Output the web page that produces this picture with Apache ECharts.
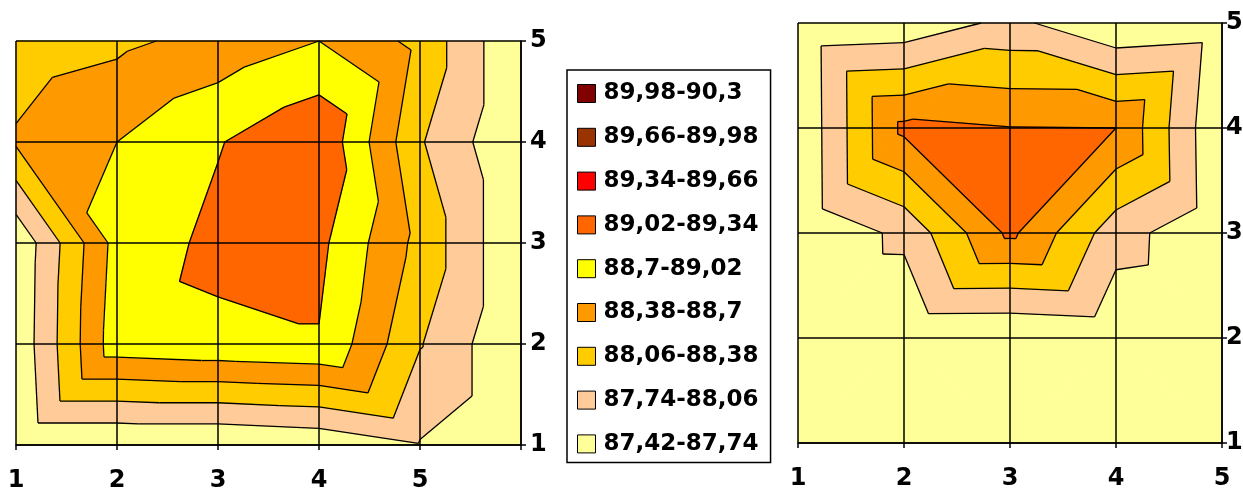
<!DOCTYPE html>
<html lang="ru">
<head>
    <meta charset="UTF-8">
    <title>Contour</title>
    <script src="https://cdn.jsdelivr.net/npm/echarts@6/dist/echarts.min.js"></script>
</head>
<body style="margin:0;background:#fff">
<div id="main" style="width:1243px;height:488px"></div>

<script type="text/javascript">

    // band edges and their labels (legend)
    var levels = [87.42, 87.74, 88.06, 88.38, 88.7, 89.02, 89.34, 89.66, 89.98, 90.3];
    var bandLabels = ['87,42-87,74', '87,74-88,06', '88,06-88,38', '88,38-88,7', '88,7-89,02',
        '89,02-89,34', '89,34-89,66', '89,66-89,98', '89,98-90,3'];

    // grid values, top row is y = 5, first column is x = 1
    var leftZ = [
        [88.20, 88.31, 88.49, 88.70, 88.29, 87.42],
        [88.42, 88.70, 89.00, 89.30, 88.09, 87.42],
        [87.47, 88.82, 89.10, 89.10, 88.28, 87.42],
        [87.49, 88.89, 88.95, 89.00, 88.08, 87.42],
        [87.42, 87.42, 87.42, 87.49, 87.72, 87.42]
    ];
    var rightZ = [
        [87.45, 87.50, 87.83, 87.44, 87.52],
        [87.44, 88.78, 88.71, 88.70, 87.42],
        [87.43, 87.82, 88.77, 87.88, 87.44],
        [87.42, 87.43, 87.42, 87.48, 87.42],
        [87.42, 87.42, 87.42, 87.42, 87.42]
    ];

    var leftXLabels = ['1', '2', '3', '4', '5', ''];
    var leftYLabels = ['1', '2', '3', '4', '5'];
    var rightXLabels = ['1', '2', '3', '4', '5'];
    var rightYLabels = ['1', '2', '3', '4', '5'];

    var bandColors = ['#FFFF99', '#FFCC99', '#FFCC00', '#FF9900', '#FFFF00',
        '#FF6600', '#FF0000', '#993300', '#800000'];
    var rightColors = ['#FFFF99', '#FFCC99', '#FFCC00', '#FF9900', '#FF6600'];

    var font = '"DejaVu Sans", Verdana, sans-serif';

    function zAt(Z, x, y) {
        return Z[Z.length - y][x - 1];
    }

    function cells(Z) {
        var out = [];
        for (var y = 1; y < Z.length; y++) {
            for (var x = 1; x < Z[0].length; x++) out.push([x, y]);
        }
        return out;
    }

    // split the cell along the diagonal whose ends have the larger sum
    function cellTriangles(Z, x, y) {
        function p(dx, dy) { return [x + dx, y + dy, zAt(Z, x + dx, y + dy)]; }
        var a = p(0, 0), b = p(1, 0), c = p(0, 1), d = p(1, 1);
        if (a[2] + d[2] >= b[2] + c[2]) return [[a, b, d], [a, d, c]];
        return [[a, b, c], [b, d, c]];
    }

    function clip(poly, L, above) {
        var out = [];
        for (var i = 0; i < poly.length; i++) {
            var P = poly[i], Q = poly[(i + 1) % poly.length];
            var pin = above ? P[2] >= L : P[2] <= L;
            var qin = above ? Q[2] >= L : Q[2] <= L;
            if (pin) out.push(P);
            if (pin !== qin) {
                var t = (L - P[2]) / (Q[2] - P[2]);
                out.push([P[0] + t * (Q[0] - P[0]), P[1] + t * (Q[1] - P[1]), L]);
            }
        }
        return out;
    }

    function bandRenderer(Z, b, color) {
        return function (params, api) {
            var tris = cellTriangles(Z, api.value(0), api.value(1));
            var children = [];
            tris.forEach(function (tri) {
                var poly = clip(clip(tri, levels[b], true), levels[b + 1], false);
                if (poly.length < 3) return;
                children.push({
                    type: 'polygon',
                    shape: { points: poly.map(function (q) { return api.coord([q[0], q[1]]); }) },
                    style: { fill: color, stroke: color, lineWidth: 1 }
                });
            });
            return { type: 'group', children: children };
        };
    }

    function contourRenderer(Z) {
        return function (params, api) {
            var tris = cellTriangles(Z, api.value(0), api.value(1));
            var children = [];
            tris.forEach(function (tri) {
                for (var k = 1; k < levels.length - 1; k++) {
                    var L = levels[k], pts = [];
                    for (var i = 0; i < 3; i++) {
                        var P = tri[i], Q = tri[(i + 1) % 3];
                        if ((P[2] >= L) !== (Q[2] >= L)) {
                            var t = (L - P[2]) / (Q[2] - P[2]);
                            pts.push(api.coord([P[0] + t * (Q[0] - P[0]), P[1] + t * (Q[1] - P[1])]));
                        }
                    }
                    if (pts.length === 2) {
                        children.push({
                            type: 'line',
                            shape: { x1: pts[0][0], y1: pts[0][1], x2: pts[1][0], y2: pts[1][1] },
                            style: { stroke: '#000', lineWidth: 1.3 }
                        });
                    }
                }
            });
            return { type: 'group', children: children };
        };
    }

    function axis(gridIndex, max, labels, isY, margin) {
        return {
            gridIndex: gridIndex,
            type: 'value',
            min: 1,
            max: max,
            interval: 1,
            position: isY ? 'right' : 'bottom',
            z: 5,
            axisLine: { show: true, lineStyle: { color: '#000', width: 1.5 } },
            axisTick: { show: true, length: 5, lineStyle: { color: '#000', width: 1.5 } },
            axisLabel: {
                formatter: function (v) { return labels[v - 1]; },
                color: '#000', fontSize: 24, fontWeight: 'bold', fontFamily: font, margin: margin
            },
            splitLine: { show: true, lineStyle: { color: '#000', width: 1.5 } }
        };
    }

    var series = [];
    bandColors.forEach(function (c, b) {
        series.push({
            name: bandLabels[b], type: 'custom', xAxisIndex: 0, yAxisIndex: 0, z: 1,
            silent: true, itemStyle: { color: c },
            data: cells(leftZ), renderItem: bandRenderer(leftZ, b, c)
        });
    });
    rightColors.forEach(function (c, b) {
        series.push({
            name: 'right ' + bandLabels[b], type: 'custom', xAxisIndex: 1, yAxisIndex: 1, z: 1,
            silent: true, itemStyle: { color: c },
            data: cells(rightZ), renderItem: bandRenderer(rightZ, b, c)
        });
    });
    series.push({
        name: 'left contours', type: 'custom', xAxisIndex: 0, yAxisIndex: 0, z: 3, silent: true,
        data: cells(leftZ), renderItem: contourRenderer(leftZ)
    });
    series.push({
        name: 'right contours', type: 'custom', xAxisIndex: 1, yAxisIndex: 1, z: 3, silent: true,
        data: cells(rightZ), renderItem: contourRenderer(rightZ)
    });

    var myChart = echarts.init(document.getElementById('main'));
    myChart.setOption({
        animation: false,
        backgroundColor: '#fff',
        grid: [
            { left: 16, top: 41, width: 505, height: 404, outerBoundsMode: 'none' },
            { left: 798, top: 23, width: 424, height: 420, outerBoundsMode: 'none' }
        ],
        xAxis: [
            axis(0, 6, leftXLabels, false, 24),
            axis(1, 5, rightXLabels, false, 24)
        ],
        yAxis: [
            axis(0, 5, leftYLabels, true, 9),
            axis(1, 5, rightYLabels, true, 4)
        ],
        legend: {
            orient: 'vertical',
            left: 567,
            top: 70,
            padding: [12, 12, 7, 10],
            itemWidth: 18,
            itemHeight: 18,
            itemGap: 20.8,
            borderColor: '#000',
            borderWidth: 1.5,
            selectedMode: false,
            icon: 'rect',
            itemStyle: { borderColor: '#000', borderWidth: 1 },
            textStyle: {
                fontSize: 23, fontWeight: 'bold', color: '#000', fontFamily: font,
                padding: [0, 0, 0, 3]
            },
            data: bandLabels.slice().reverse()
        },
        series: series
    });

</script>
</body>
</html>
